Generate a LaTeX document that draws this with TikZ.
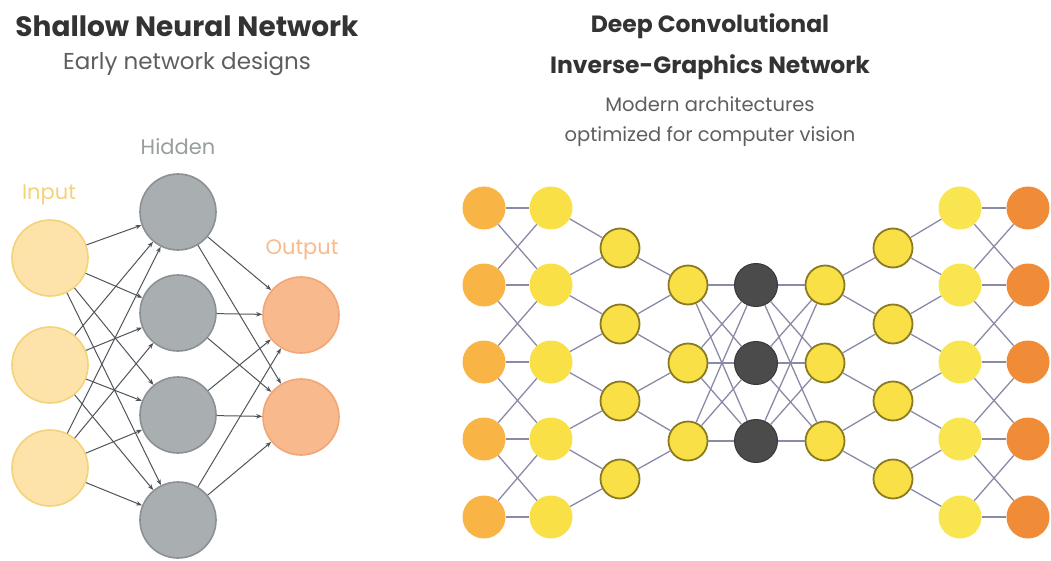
\documentclass[tikz,border=0pt]{standalone}
\usepackage{fontspec}
\setmainfont{Poppins}
\usetikzlibrary{arrows.meta}

\definecolor{titlec}{HTML}{333333}
\definecolor{subc}{HTML}{5E5E5E}
\definecolor{inpfill}{HTML}{FDE3AA}
\definecolor{inpedge}{HTML}{F3D27A}
\definecolor{hidfill}{HTML}{A9AEB1}
\definecolor{hidedge}{HTML}{8A9094}
\definecolor{outfill}{HTML}{F8B98C}
\definecolor{outedge}{HTML}{F2A677}
\definecolor{arrc}{HTML}{4F545A}
\definecolor{linkc}{HTML}{8A8AA6}
\definecolor{amber}{HTML}{F8B444}
\definecolor{sun}{HTML}{F9E046}
\definecolor{lemon}{HTML}{F9E550}
\definecolor{olive}{HTML}{8A7A22}
\definecolor{coal}{HTML}{4B4B4B}
\definecolor{coaledge}{HTML}{383838}
\definecolor{tang}{HTML}{F08B38}

\begin{document}
\begin{tikzpicture}[x=1pt,y=-1pt,
  big/.style={circle,line width=1.6pt,minimum size=76pt,inner sep=0pt},
  inp/.style={big,draw=inpedge,fill=inpfill},
  hid/.style={big,draw=hidedge,fill=hidfill},
  outp/.style={big,draw=outedge,fill=outfill},
  arr/.style={draw=arrc,line width=1pt,-{Stealth[length=6pt,width=4.5pt]}},
  small/.style={circle,minimum size=43pt,inner sep=0pt},
  plain/.style={small,draw=none},
  ring/.style={circle,minimum size=39pt,inner sep=0pt,fill=sun,draw=olive,line width=1.8pt},
  coalnode/.style={small,fill=coal,draw=coaledge,line width=1pt},
  link/.style={draw=linkc,line width=1.3pt},
  bigtitle/.style={font=\bfseries\fontsize{28}{31}\selectfont,text=titlec},
  title/.style={font=\bfseries\fontsize{23.5}{27}\selectfont,text=titlec},
  bigsub/.style={font=\fontsize{23}{26}\selectfont,text=subc},
  sub/.style={font=\fontsize{19.5}{22}\selectfont,text=subc},
  lbl/.style={font=\fontsize{21}{24}\selectfont}
]
\useasboundingbox (0,0) rectangle (1051,561);

% ---------- headings ----------
\node[bigtitle] (t1) at (187,26) {Shallow Neural Network};
\node[bigsub] (s1) at (187,64) {Early network designs};
\node[title] (t2) at (710,26) {Deep Convolutional};
\node[title] (t3) at (710,67) {Inverse-Graphics Network};
\node[sub] (s2) at (710,104) {Modern architectures};
\node[sub] (s3) at (710,137) {optimized for computer vision};

% ---------- shallow network ----------
\node[lbl,text=inpedge] (linp) at (49,195) {Input};
\node[lbl,text=hidfill!90!black] (lhid) at (178,147) {Hidden};
\node[lbl,text=outfill] (lout) at (302,250) {Output};

\foreach \i/\y in {1/258,2/365,3/468} \node[inp] (in\i) at (50,\y) {};
\foreach \i/\y in {1/212,2/313,3/415,4/520} \node[hid] (hd\i) at (178,\y) {};
\foreach \i/\y in {1/315,2/417} \node[outp] (ot\i) at (301,\y) {};

\foreach \i in {1,2,3} \foreach \j in {1,2,3,4} \draw[arr] (in\i) -- (hd\j);
\foreach \j in {1,2,3,4} \foreach \k in {1,2} \draw[arr] (hd\j) -- (ot\k);

% ---------- deep network ----------
\foreach \i/\y in {1/208,2/285,3/362,4/439,5/517} {
  \node[plain,fill=amber] (a\i) at (484,\y) {};
  \node[plain,fill=sun] (b\i) at (551,\y) {};
  \node[plain,fill=lemon] (h\i) at (960,\y) {};
  \node[plain,fill=tang] (k\i) at (1028,\y) {};
}
\foreach \i/\y in {1/248,2/324,3/401,4/479} {
  \node[ring] (c\i) at (620,\y) {};
  \node[ring] (g\i) at (893,\y) {};
}
\foreach \i/\y in {1/285,2/363,3/441} {
  \node[ring] (d\i) at (688,\y) {};
  \node[coalnode] (e\i) at (756,\y) {};
  \node[ring] (f\i) at (825,\y) {};
}

% first and last pair of columns: straight plus crossing links
\foreach \i in {1,...,5} {
  \draw[link] (a\i) -- (b\i);
  \draw[link] (h\i) -- (k\i);
}
\foreach \i in {1,...,4} {
  \pgfmathtruncatemacro{\n}{\i+1}
  \draw[link] (a\i) -- (b\n);
  \draw[link] (a\n) -- (b\i);
  \draw[link] (h\i) -- (k\n);
  \draw[link] (h\n) -- (k\i);
  % narrowing / widening zig-zags
  \draw[link] (b\i) -- (c\i);
  \draw[link] (b\n) -- (c\i);
  \draw[link] (g\i) -- (h\i);
  \draw[link] (g\i) -- (h\n);
}
\foreach \i in {1,...,3} {
  \pgfmathtruncatemacro{\n}{\i+1}
  \draw[link] (c\i) -- (d\i);
  \draw[link] (c\n) -- (d\i);
  \draw[link] (f\i) -- (g\i);
  \draw[link] (f\i) -- (g\n);
}
% bottleneck: fully connected
\foreach \i in {1,2,3} \foreach \j in {1,2,3} {
  \draw[link] (d\i) -- (e\j);
  \draw[link] (e\i) -- (f\j);
}
\end{tikzpicture}
\end{document}
